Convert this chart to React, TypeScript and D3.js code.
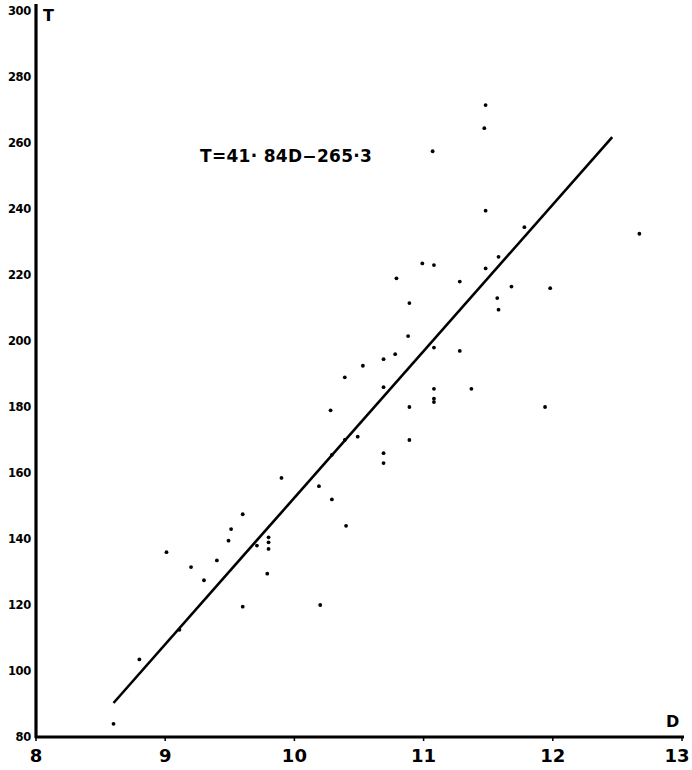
import React from "react";
import * as d3 from "d3";

const xTicks = [8, 9, 10, 11, 12, 13];
const xTickLabels = ["8", "9", "10", "11", "12", "13"];
const yTicks = [80, 100, 120, 140, 160, 180, 200, 220, 240, 260, 280, 300];
const yTickLabels = ["80", "100", "120", "140", "160", "180", "200", "220", "240", "260", "280", "300"];

const pointD = [
  8.6, 8.8, 9.11, 9.01, 9.2, 9.3, 9.4, 9.49, 9.51, 9.6, 9.6, 9.71, 9.8, 9.8, 9.8, 9.79,
  9.9, 10.19, 10.29, 10.4, 10.2, 10.29, 10.39, 10.49, 10.28, 10.39, 10.53, 10.69, 10.78,
  10.69, 10.69, 10.69, 10.89, 10.89, 10.88, 10.89, 10.79, 10.99, 11.08, 11.08, 11.08,
  11.08, 11.08, 11.28, 11.37, 11.28, 11.48, 11.58, 11.57, 11.58, 11.68, 11.98, 11.94,
  11.78, 11.48, 11.07, 11.47, 11.48, 12.67,
];
const pointT = [
  84, 103.5, 112.5, 136, 131.5, 127.5, 133.5, 139.5, 143, 147.5, 119.5, 138, 140.5, 139, 137, 129.5,
  158.5, 156, 152, 144, 120, 165.5, 170, 171, 179, 189, 192.5, 194.5, 196,
  186, 166, 163, 170, 180, 201.5, 211.5, 219, 223.5, 223, 198, 185.5,
  182.5, 181.5, 197, 185.5, 218, 222, 225.5, 213, 209.5, 216.5, 216, 180,
  234.5, 239.5, 257.5, 264.5, 271.5, 232.5,
];

const lineD = [8.6, 12.46];
const lineT = [90.3, 261.8];

const equation = "T=41· 84D−265·3";
const xAxisTitle = "D";
const yAxisTitle = "T";

export default function App() {
  const x = d3.scaleLinear().domain([8, 13]).range([36, 682]);
  const y = d3.scaleLinear().domain([80, 300]).range([737, 11]);
  const line = d3
    .line<number>()
    .x((d) => x(d))
    .y((_, i) => y(lineT[i]));
  const font = "'DejaVu Sans', 'Liberation Sans', sans-serif";
  return (
    <svg
      width={692}
      height={770}
      style={{ position: "absolute", left: 0, top: 0, background: "#fff" }}
    >
      {/* axes */}
      <line x1={x(8)} x2={x(8)} y1={y(80) + 1} y2={4} stroke="#000" strokeWidth={3.2} />
      <line x1={x(8) - 1} x2={x(13) + 2} y1={y(80)} y2={y(80)} stroke="#000" strokeWidth={3} />
      {xTicks.map((t) => (
        <line key={"xt" + t} x1={x(t)} x2={x(t)} y1={y(80)} y2={y(80) + 4} stroke="#000" strokeWidth={1.5} />
      ))}
      {xTicks.map((t, i) => (
        <text
          key={"xl" + t}
          x={x(t) - (t === 13 ? 5 : 0)}
          y={762}
          textAnchor="middle"
          fontFamily={font}
          fontWeight="bold"
          fontSize={18}
        >
          {xTickLabels[i]}
        </text>
      ))}
      {yTicks.map((t, i) => (
        <text
          key={"yl" + t}
          x={31}
          y={y(t)}
          dy="0.35em"
          textAnchor="end"
          fontFamily={font}
          fontWeight="bold"
          fontSize={11.5}
          letterSpacing={-0.3}
        >
          {yTickLabels[i]}
        </text>
      ))}
      <text x={43} y={21} fontFamily={font} fontWeight="bold" fontSize={16}>
        {yAxisTitle}
      </text>
      <text x={666} y={727} fontFamily={font} fontWeight="bold" fontSize={16}>
        {xAxisTitle}
      </text>
      <text x={200} y={162} fontFamily={font} fontWeight="bold" fontSize={17} letterSpacing={0.3}>
        {equation}
      </text>
      {/* regression line */}
      <path d={line(lineD) || ""} fill="none" stroke="#000" strokeWidth={2.6} />
      {/* points */}
      {pointD.map((d, i) => (
        <circle key={"p" + i} cx={x(d)} cy={y(pointT[i])} r={1.9} fill="#000" />
      ))}
    </svg>
  );
}
